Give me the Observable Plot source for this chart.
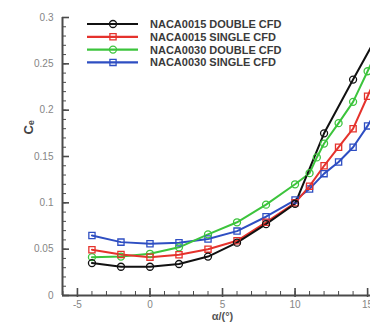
<!DOCTYPE html>
<html><head><meta charset="utf-8">
<script src="https://cdn.jsdelivr.net/npm/d3@7"></script>
<script src="https://cdn.jsdelivr.net/npm/@observablehq/plot@0.6"></script>
<style>body{margin:0;background:#fff} #chart svg{overflow:hidden;display:block}</style>
</head><body><div id="chart"></div>
<script>
// ---- data ----
const seriesNames = ["NACA0015 DOUBLE CFD", "NACA0015 SINGLE CFD", "NACA0030 DOUBLE CFD", "NACA0030 SINGLE CFD"];
const seriesColors = ["#111111", "#e5322c", "#3cc43c", "#2e4ec2"];
const seriesSymbols = ["circle", "square", "circle", "square"];

const alphaN15Double = [-4, -2, 0, 2, 4, 6, 8, 10, 12, 14, 16];
const ceN15Double    = [0.035, 0.031, 0.031, 0.034, 0.042, 0.057, 0.077, 0.099, 0.175, 0.233, 0.29];

const alphaN15Single = [-4, -2, 0, 2, 4, 6, 8, 10, 11, 12, 13, 14, 15, 16];
const ceN15Single    = [0.0494, 0.0443, 0.0414, 0.044, 0.050, 0.059, 0.079, 0.100, 0.118, 0.140, 0.160, 0.180, 0.215, 0.25];

const alphaN30Double = [-4, -2, 0, 2, 4, 6, 8, 10, 11, 11.5, 12, 13, 14, 15, 16];
const ceN30Double    = [0.0414, 0.042, 0.045, 0.052, 0.066, 0.079, 0.098, 0.120, 0.132, 0.149, 0.164, 0.186, 0.209, 0.242, 0.275];

const alphaN30Single = [-4, -2, 0, 2, 4, 6, 8, 10, 11, 12, 13, 14, 15, 16];
const ceN30Single    = [0.0648, 0.0576, 0.0558, 0.057, 0.061, 0.0695, 0.085, 0.103, 0.115, 0.1315, 0.144, 0.160, 0.183, 0.21];

const xDomain = [-6.03, 15.2];
const yDomain = [0, 0.3];
const xTickValues = [-5, 0, 5, 10, 15];
const yTickValues = [0, 0.05, 0.1, 0.15, 0.2, 0.25, 0.3];
const xMinorValues = d3.range(-6, 16, 1);
const yMinorValues = d3.range(0, 0.3001, 0.01);
const xLabel = "α/(°)";
const yLabel = "Cₑ";

// ---- build table ----
const alphas = [alphaN15Double, alphaN15Single, alphaN30Double, alphaN30Single];
const ces = [ceN15Double, ceN15Single, ceN30Double, ceN30Single];
const drawOrder = [3, 2, 1, 0];
const rows = drawOrder.flatMap(i => alphas[i].map((a, j) => ({series: seriesNames[i], alpha: a, ce: ces[i][j]})));

const W = 370, H = 332, mL = 62, mR = 0, mT = 17, mB = 37;
const frameW = W - mL - mR, frameH = H - mT - mB;
const axisColor = "#4a4a4a";
const plot = Plot.plot({
  width: W, height: H,
  marginLeft: mL, marginRight: mR, marginTop: mT, marginBottom: mB,
  style: {fontFamily: "'Liberation Sans', Arial, sans-serif", fontSize: "10px", color: "#858585", background: "white"},
  x: {domain: xDomain},
  y: {domain: yDomain},
  color: {domain: seriesNames, range: seriesColors},
  symbol: {domain: seriesNames, range: seriesSymbols},
  marks: [
    Plot.axisX(xTickValues, {tickSize: 0, tickPadding: 5, tickFormat: d => String(d), label: null}),
    Plot.axisY(yTickValues, {tickSize: 0, tickPadding: 9, tickFormat: d => String(+d.toFixed(2)), label: null}),
    Plot.tickX(xMinorValues, {x: d => d, insetTop: frameH - 4, stroke: axisColor, strokeWidth: 1}),
    Plot.tickX(xTickValues, {x: d => d, insetTop: frameH - 7, insetBottom: -2, stroke: axisColor, strokeWidth: 1.6}),
    Plot.tickY(yMinorValues, {y: d => d, insetRight: frameW - 4, stroke: axisColor, strokeWidth: 1}),
    Plot.tickY(yTickValues, {y: d => d, insetRight: frameW - 7, stroke: axisColor, strokeWidth: 1.6}),
    Plot.ruleY([yDomain[0]], {stroke: axisColor, strokeWidth: 2}),
    Plot.ruleX([xDomain[0]], {stroke: axisColor, strokeWidth: 2}),
    Plot.line(rows, {x: "alpha", y: "ce", z: "series", stroke: "series", strokeWidth: 2, clip: true}),
    Plot.dot(rows, {x: "alpha", y: "ce", stroke: "series", symbol: "series", r: 3.5, strokeWidth: 1.3, fill: "none", clip: true}),
    Plot.text([xLabel], {frameAnchor: "bottom", dx: 6, dy: 24, fill: "#555", fontWeight: "bold", fontSize: 11}),
    Plot.text([yLabel], {frameAnchor: "left", dx: -34, dy: -22, rotate: -90, fill: "#444", fontWeight: "bold", fontSize: 13})
  ]
});
document.getElementById("chart").appendChild(plot);

// ---- legend inside the plot ----
const svg = d3.select(plot);
const lg = svg.append("g").attr("font-family", "'Liberation Sans', Arial, sans-serif").attr("text-anchor", "start");
seriesNames.forEach((name, i) => {
  const y = 24 + i * 12.8;
  const g = lg.append("g").attr("transform", `translate(0,${y})`);
  g.append("line").attr("x1", 87).attr("x2", 138).attr("stroke", seriesColors[i]).attr("stroke-width", 2.2);
  const sym = seriesSymbols[i] === "circle" ? d3.symbolCircle : d3.symbolSquare;
  g.append("path").attr("transform", "translate(113,0)").attr("d", d3.symbol(sym, 3.5 * 3.5 * Math.PI)())
    .attr("fill", "none").attr("stroke", seriesColors[i]).attr("stroke-width", 1.3);
  g.append("text").attr("x", 150).attr("y", 4).attr("font-size", 11).attr("font-weight", "bold")
    .attr("text-anchor", "start").attr("fill", "#3a3a3a").text(name);
});
</script>
</body></html>
